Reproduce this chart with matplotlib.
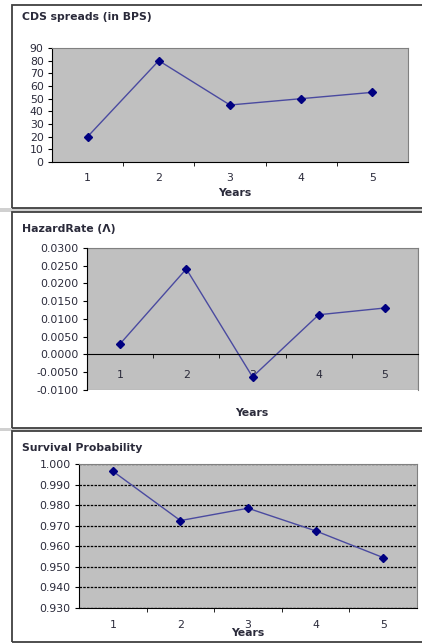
import matplotlib
matplotlib.use("Agg")
import matplotlib.pyplot as plt
from matplotlib.patches import Rectangle
from matplotlib.ticker import FormatStrFormatter

plt.rcParams['font.family'] = ['DejaVu Sans']

# Data
years = [1, 2, 3, 4, 5]
cds_spreads = [20, 80, 45, 50, 55]
hazard_rate = [0.0030, 0.0241, -0.0063, 0.0112, 0.0131]
survival_prob = [0.9965, 0.9725, 0.9785, 0.9675, 0.9545]

W, H = 422, 643
fig = plt.figure(figsize=(W / 100, H / 100), dpi=100)


def px_axes(left, top, right, bottom):
    # pixel box (from top-left) -> figure axes
    return fig.add_axes([left / W, 1 - bottom / H, (right - left) / W, (bottom - top) / H])


def fx(x):
    return x / W


def fy(y):
    return 1 - y / H


# panel frames and the grey gaps between them
for top, bottom in [(5, 208), (212, 428), (431, 642)]:
    fig.patches.append(Rectangle((fx(12), fy(bottom)), fx(W + 5 - 12), fy(top) - fy(bottom),
                                 transform=fig.transFigure, fill=False, ec='#404040', lw=1.3))
for top, bottom in [(208, 212), (428, 431)]:
    fig.patches.append(Rectangle((0, fy(bottom)), 1, fy(top) - fy(bottom),
                                 transform=fig.transFigure, fc='#d0d0d0', ec='none', zorder=-1))

line_color = '#4a4aa0'
mk_color = '#000080'
txt = '#2a2a3a'
fs = 7.8


def style(ax, ylim, yticks, fmt, pad_x):
    ax.set_facecolor('#c0c0c0')
    ax.set_xlim(0.5, 5.5)
    ax.set_ylim(*ylim)
    ax.set_yticks(yticks)
    ax.yaxis.set_major_formatter(FormatStrFormatter(fmt))
    ax.set_xticks(years)
    ax.set_xticks([1.5, 2.5, 3.5, 4.5], minor=True)
    ax.tick_params(axis='x', which='major', length=0, pad=pad_x, labelsize=fs, labelcolor=txt)
    ax.tick_params(axis='x', which='minor', length=3, direction='out', color='black')
    ax.tick_params(axis='y', length=3, direction='out', pad=3, labelsize=fs, labelcolor=txt)
    for s in ['top', 'right']:
        ax.spines[s].set_color('#808080')
    ax.spines['left'].set_color('black')
    ax.spines['bottom'].set_color('black')


# Panel 1: CDS spreads
ax1 = px_axes(52, 48, 408, 162)
ax1.plot(years, cds_spreads, color=line_color, lw=1, marker='D', ms=4.5,
         mfc=mk_color, mec=mk_color)
style(ax1, (0, 90), range(0, 91, 10), '%d', 8)
fig.text(fx(22), fy(17), 'CDS spreads (in BPS)', fontsize=fs, fontweight='bold',
         color=txt, va='center')
fig.text(fx(235), fy(193), 'Years', fontsize=fs, fontweight='bold', color=txt,
         ha='center', va='center')

# Panel 2: Hazard rate
ax2 = px_axes(87, 248, 418, 390)
ax2.plot(years, hazard_rate, color=line_color, lw=1, marker='D', ms=4.5,
         mfc=mk_color, mec=mk_color)
style(ax2, (-0.01, 0.03), [-0.01 + 0.005 * i for i in range(9)], '%.4f', 11)
ax2.spines['bottom'].set_position(('data', 0))
ax2.add_patch(Rectangle((0, 0), 1, 1, transform=ax2.transAxes, fill=False,
                        ec='#808080', lw=0.8, zorder=0.5))
ax2.spines['left'].set_zorder(3)
fig.text(fx(22), fy(229), 'HazardRate (\u039b)', fontsize=fs, fontweight='bold',
         color=txt, va='center')
fig.text(fx(252), fy(413), 'Years', fontsize=fs, fontweight='bold', color=txt,
         ha='center', va='center')

# Panel 3: Survival probability
ax3 = px_axes(79, 464, 417, 608)
ax3.plot(years, survival_prob, color=line_color, lw=1, marker='D', ms=4.5,
         mfc=mk_color, mec=mk_color, zorder=3)
style(ax3, (0.93, 1.0), [0.93 + 0.01 * i for i in range(8)], '%.3f', 9)
ax3.yaxis.grid(True, color='black', linestyle=(0, (2, 1)), lw=0.9)
ax3.set_axisbelow(True)
fig.text(fx(22), fy(448), 'Survival Probability', fontsize=fs, fontweight='bold',
         color=txt, va='center')
fig.text(fx(248), fy(633), 'Years', fontsize=fs, fontweight='bold', color=txt,
         ha='center', va='center')

fig.savefig('out.png', dpi=100)
